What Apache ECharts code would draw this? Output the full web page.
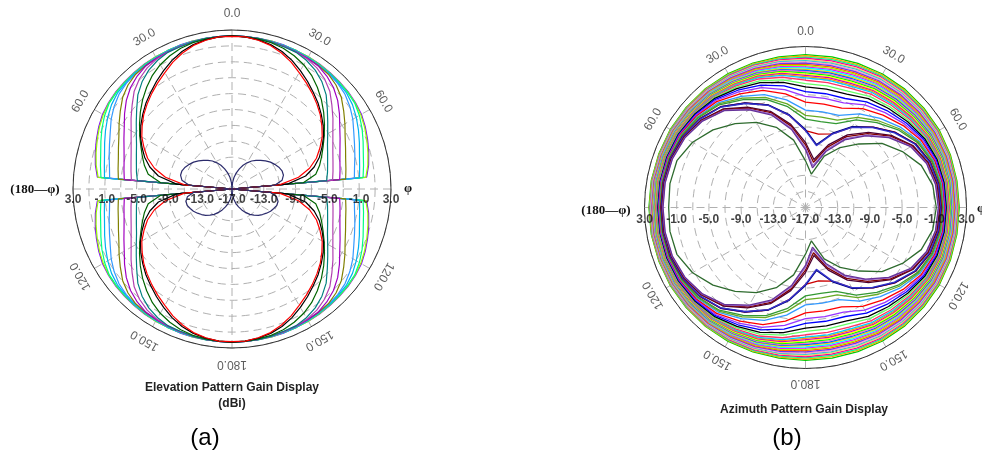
<!DOCTYPE html>
<html><head><meta charset="utf-8">
<script src="https://cdn.jsdelivr.net/npm/echarts/dist/echarts.min.js"></script>
<style>html,body{margin:0;padding:0;background:#fff}#c{width:982px;height:457px}</style>
</head><body><div id="c"></div>
<script>
// ---------- tick labels ----------
const radiusTicks = [3, -1, -5, -9, -13, -17];
const angleTicks = [0, 30, 60, 120, 150, 180, 210, 240, 300, 330];

// ---------- (a) Elevation pattern: gain (dBi) vs angle from top, one quadrant 0..90 (plot is symmetric) ----------
const elevAngles = [0,5,10,15,20,25,30,35,40,45,50,55,60,65,70,75,80,85,90];
const elevRed     = [2.2,2.2,2.0,1.7,1.2,0.6,-0.1,-0.7,-1.3,-1.9,-2.5,-3.2,-3.9,-4.8,-5.7,-6.9,-8.5,-11,-17];
const elevBlack   = [2.25,2.2,2.05,1.8,1.4,0.85,0.2,-0.45,-1.1,-1.7,-2.35,-3.0,-3.7,-4.5,-5.3,-6.3,-7.6,-10,-17];
const elevDkGreen = [2.25,2.2,2.15,2.05,1.85,1.5,1.05,0.45,-0.3,-1.1,-1.95,-2.8,-3.6,-4.35,-5.0,-5.6,-6.3,-8.0,-17];
const elevTeal    = [2.25,2.25,2.2,2.15,2.05,2.0,1.7,1.25,0.6,-0.25,-1.35,-2.3,-3.1,-3.75,-4.2,-4.55,-4.8,-5.05,-17];
const elevMagenta = [2.25,2.25,2.2,2.15,2.1,2.0,1.9,1.6,1.1,0.4,-0.6,-1.5,-2.35,-3.0,-3.5,-3.85,-4.1,-4.3,-17];
const elevPurple  = [2.25,2.25,2.2,2.15,2.1,2.05,2.0,1.9,1.55,1.05,0.35,-0.5,-1.35,-2.0,-2.55,-2.95,-3.2,-3.4,-17];
const elevOlive   = [2.25,2.25,2.2,2.15,2.1,2.05,2.0,1.95,1.85,1.5,0.95,0.15,-0.6,-1.3,-1.8,-2.2,-2.45,-2.65,-17];
const elevBlue    = [2.25,2.25,2.2,2.2,2.15,2.1,2.05,2.0,1.9,1.8,1.55,1.1,0.55,-0.1,-0.6,-1.0,-1.35,-1.55,-17];
const elevCyan    = [2.25,2.25,2.25,2.2,2.2,2.15,2.1,2.05,2.0,1.9,1.8,1.5,1.05,0.55,0.05,-0.4,-0.7,-0.9,-17];
const elevSpring  = [2.25,2.25,2.25,2.2,2.2,2.2,2.15,2.1,2.05,2.0,1.95,1.85,1.5,1.05,0.55,0.1,-0.2,-0.45,-17];
const elevLime    = [2.25,2.25,2.25,2.25,2.2,2.2,2.2,2.15,2.1,2.05,2.0,1.9,1.7,1.4,1.05,0.7,0.35,-0.1,-17];
const elevViolet  = [2.25,2.25,2.25,2.25,2.25,2.2,2.2,2.2,2.15,2.1,2.05,1.95,1.8,1.5,1.15,0.8,0.45,0.0,-17];
const elevNavyUp  = [-17,-16.2,-15.5,-14.9,-14.3,-13.7,-13.2,-12.7,-12.3,-11.9,-11.5,-11.1,-10.8,-10.5,-10.3,-10.3,-10.6,-11.6,-17];
const elevNavyLow = [-17,-16.3,-15.7,-15.1,-14.6,-14.1,-13.6,-13.1,-12.7,-12.3,-12.0,-11.7,-11.4,-11.2,-11.0,-11.0,-11.3,-12.2,-17];

// ---------- (b) Azimuth pattern: gain (dBi), upper half -90..90 (plot is mirrored top/bottom) ----------
const azAngles = [-90,-80,-70,-60,-50,-40,-30,-20,-10,0,10,20,30,40,50,60,70,80,90];
const azDarkGreen = [0.0,0.1,0.0,-0.8,-2.0,-3.4,-4.8,-6.4,-8.5,-11.2,-12.8,-10.2,-8.4,-6.7,-4.6,-3.1,-1.7,-0.95,-0.75];
const azK00 = [0.7,0.7,0.6,0.3,-0.3,-1.3,-3.0,-4.8,-7.2,-9.8,-12.0,-9.6,-7.3,-5.4,-3.5,-1.9,-1.0,-0.6,-0.5];
const azK01 = [0.74,0.74,0.64,0.34,-0.25,-1.23,-2.9,-4.66,-7.02,-9.56,-11.72,-9.37,-7.11,-5.25,-3.39,-1.82,-0.94,-0.55,-0.45];
const azK02 = [0.79,0.79,0.69,0.41,-0.17,-1.12,-2.74,-4.46,-6.74,-9.21,-11.3,-9.02,-6.83,-5.02,-3.22,-1.7,-0.84,-0.47,-0.37];
const azK03 = [0.83,0.83,0.74,0.46,-0.1,-1.03,-2.61,-4.28,-6.51,-8.92,-10.95,-8.73,-6.59,-4.83,-3.07,-1.59,-0.76,-0.4,-0.31];
const azK04 = [0.89,0.9,0.82,0.58,0.09,-0.71,-2.08,-3.5,-5.39,-7.44,-9.2,-7.3,-5.51,-4.05,-2.57,-1.3,-0.58,-0.27,-0.21];
const azK05 = [0.93,0.93,0.85,0.62,0.13,-0.66,-2.01,-3.42,-5.29,-7.32,-9.06,-7.18,-5.41,-3.96,-2.49,-1.23,-0.53,-0.22,-0.16];
const azK06 = [0.98,0.98,0.9,0.66,0.17,-0.64,-2.01,-3.45,-5.37,-7.44,-7.74,-7.28,-5.46,-3.96,-2.45,-1.18,-0.46,-0.16,-0.08];
const azK07 = [1.03,1.04,0.97,0.77,0.35,-0.34,-1.51,-2.7,-4.29,-6.02,-6.17,-5.92,-4.42,-3.22,-1.98,-0.9,-0.3,-0.05,0.0];
const azK08 = [1.09,1.09,1.03,0.84,0.44,-0.21,-1.31,-2.43,-3.93,-5.55,-5.6,-5.46,-4.06,-2.93,-1.78,-0.76,-0.2,0.04,0.08];
const azK09 = [1.14,1.15,1.09,0.91,0.54,-0.05,-1.06,-2.07,-3.43,-4.9,-4.95,-4.82,-3.56,-2.56,-1.52,-0.6,-0.08,0.13,0.16];
const azK10 = [1.19,1.2,1.15,1.0,0.68,0.17,-0.69,-1.53,-2.66,-3.9,-3.95,-3.85,-2.82,-2.02,-1.17,-0.38,0.06,0.23,0.25];
const azK11 = [1.24,1.26,1.21,1.08,0.8,0.35,-0.41,-1.14,-2.12,-3.19,-3.24,-3.16,-2.29,-1.62,-0.89,-0.21,0.18,0.32,0.33];
const azK12 = [1.3,1.31,1.27,1.16,0.9,0.5,-0.18,-0.82,-1.66,-2.6,-2.65,-2.59,-1.84,-1.28,-0.66,-0.05,0.28,0.4,0.41];
const azK13 = [1.35,1.36,1.33,1.23,1.0,0.65,0.06,-0.49,-1.21,-2.01,-2.06,-2.01,-1.39,-0.94,-0.42,0.1,0.4,0.49,0.49];
const azK14 = [1.4,1.42,1.39,1.3,1.08,0.77,0.23,-0.25,-0.89,-1.6,-1.65,-1.61,-1.07,-0.68,-0.23,0.24,0.49,0.57,0.56];
const azK15 = [1.45,1.47,1.44,1.36,1.17,0.88,0.41,-0.01,-0.57,-1.19,-1.24,-1.2,-0.74,-0.42,-0.04,0.37,0.59,0.66,0.64];
const azK16 = [1.5,1.52,1.49,1.42,1.24,0.98,0.54,0.16,-0.34,-0.89,-0.94,-0.91,-0.5,-0.23,0.11,0.48,0.68,0.73,0.71];
const azK17 = [1.55,1.57,1.54,1.47,1.3,1.05,0.63,0.27,-0.21,-0.74,-0.79,-0.75,-0.36,-0.1,0.22,0.57,0.75,0.8,0.79];
const azK18 = [1.6,1.61,1.58,1.52,1.35,1.12,0.71,0.37,-0.09,-0.58,-0.63,-0.6,-0.22,0.03,0.33,0.66,0.83,0.87,0.86];
const azK19 = [1.65,1.66,1.63,1.57,1.41,1.19,0.8,0.47,0.04,-0.43,-0.48,-0.44,-0.08,0.16,0.44,0.75,0.91,0.95,0.93];
const azK20 = [1.7,1.71,1.68,1.62,1.47,1.26,0.89,0.57,0.16,-0.28,-0.33,-0.28,0.06,0.29,0.55,0.84,0.99,1.02,1.0];
const azK21 = [1.75,1.76,1.73,1.68,1.53,1.33,0.98,0.68,0.28,-0.12,-0.17,-0.12,0.2,0.41,0.66,0.93,1.06,1.09,1.08];
const azK22 = [1.8,1.81,1.78,1.73,1.59,1.39,1.06,0.77,0.4,0.02,-0.03,0.02,0.33,0.54,0.77,1.02,1.14,1.16,1.15];
const azK23 = [1.85,1.86,1.82,1.78,1.65,1.46,1.15,0.87,0.52,0.17,0.12,0.18,0.47,0.67,0.88,1.11,1.22,1.23,1.22];
const azK24 = [1.9,1.91,1.87,1.83,1.71,1.54,1.24,0.98,0.65,0.33,0.28,0.34,0.61,0.79,0.99,1.2,1.3,1.31,1.3];
const azK25 = [1.95,1.96,1.92,1.88,1.76,1.6,1.33,1.08,0.77,0.48,0.43,0.49,0.75,0.92,1.1,1.29,1.37,1.38,1.37];
const azK26 = [2.0,2.01,1.97,1.94,1.82,1.67,1.41,1.18,0.89,0.63,0.58,0.65,0.89,1.05,1.21,1.38,1.45,1.45,1.44];
const azK27 = [2.05,2.06,2.02,1.99,1.88,1.74,1.5,1.29,1.02,0.79,0.74,0.81,1.03,1.18,1.32,1.47,1.53,1.52,1.52];
const azK28 = [2.1,2.11,2.06,2.04,1.94,1.81,1.59,1.39,1.14,0.94,0.89,0.96,1.18,1.31,1.43,1.57,1.61,1.6,1.59];
const azK29 = [2.15,2.16,2.11,2.09,2.0,1.88,1.68,1.49,1.27,1.09,1.04,1.12,1.32,1.44,1.54,1.66,1.69,1.67,1.66];
const azK30 = [2.2,2.2,2.16,2.14,2.06,1.95,1.76,1.59,1.39,1.25,1.2,1.28,1.46,1.56,1.65,1.75,1.76,1.74,1.73];
const azK31 = [2.25,2.25,2.21,2.19,2.12,2.02,1.85,1.69,1.5,1.39,1.34,1.42,1.59,1.69,1.76,1.84,1.84,1.81,1.81];
const azK32 = [2.3,2.3,2.26,2.24,2.17,2.09,1.94,1.79,1.63,1.54,1.49,1.58,1.73,1.81,1.87,1.93,1.92,1.88,1.88];
const azK33 = [2.35,2.35,2.3,2.3,2.23,2.16,2.03,1.9,1.75,1.69,1.64,1.74,1.87,1.94,1.98,2.02,1.99,1.96,1.95];
const azK34 = [2.4,2.4,2.35,2.35,2.29,2.23,2.11,2.0,1.88,1.85,1.8,1.89,2.01,2.07,2.09,2.11,2.07,2.03,2.03];
const azK35 = [2.45,2.45,2.4,2.4,2.35,2.3,2.2,2.1,2.0,2.0,2.0,2.05,2.15,2.2,2.2,2.2,2.15,2.1,2.1];

// ---------- styling lists ----------
const elevCurves = [
  [elevViolet,'#8000ff'],[elevLime,'#99ff00'],[elevSpring,'#00ff80'],[elevCyan,'#00b0f0'],
  [elevBlue,'#3399ff'],[elevOlive,'#808000'],[elevPurple,'#a000c0'],[elevMagenta,'#b040b0'],
  [elevTeal,'#008080'],[elevDkGreen,'#006400'],[elevBlack,'#000000'],[elevRed,'#ff0000']
];
const azCurves = [
  [azK35,'#00cc00'],[azK34,'#ffa500'],[azK33,'#00ff99'],[azK32,'#ff0099'],[azK31,'#ffcc66'],
  [azK30,'#33cccc'],[azK29,'#ff99cc'],[azK28,'#6633ff'],[azK27,'#ff6600'],[azK26,'#99ff00'],
  [azK25,'#ff00ff'],[azK24,'#00ffff'],[azK23,'#ffcc00'],[azK22,'#0066ff'],[azK21,'#ff66cc'],
  [azK20,'#00ff00'],[azK19,'#ffff00'],[azK18,'#cc00cc'],[azK17,'#ff9900'],[azK16,'#00ccff'],
  [azK15,'#ff3366'],[azK14,'#66ff66'],[azK13,'#000000'],[azK12,'#0000ff'],[azK11,'#9933ff'],
  [azK10,'#ff0000'],[azK09,'#3399ff'],[azK08,'#66aa22'],[azK07,'#339933'],[azK06,'#cc0000'],
  [azK05,'#000080'],[azK04,'#3333cc'],[azK03,'#4b0033'],[azK02,'#800000'],[azK01,'#9966cc'],
  [azK00,'#663399'],[azDarkGreen,'#2e6b2e']
];

// build closed loops from the symmetric readings
function elevLoop(up, low) {
  const n = elevAngles.length, p = [];
  for (let i = 0; i < n; i++) p.push([up[i], elevAngles[i]]);
  for (let i = n - 2; i >= 0; i--) p.push([low[i], 180 - elevAngles[i]]);
  for (let i = 1; i < n; i++) p.push([low[i], 180 + elevAngles[i]]);
  for (let i = n - 2; i >= 0; i--) p.push([up[i], 360 - elevAngles[i]]);
  return p;
}
function azLoop(h) {
  const n = azAngles.length, p = [];
  for (let i = 0; i < n; i++) p.push([h[i], (azAngles[i] + 360) % 360]);
  for (let i = n - 2; i >= 0; i--) p.push([h[i], 180 - azAngles[i]]);
  return p;
}

const chart = echarts.init(document.getElementById('c'), null, {renderer: 'canvas'});
const FONT = 'Liberation Sans, Arial, sans-serif';
const gridStyle = {color: '#b0b0b0', width: 1, type: [8, 5]};

function axesFor(idx) {
  return {
    angle: {polarIndex: idx, type: 'value', min: 0, max: 360, interval: 30, startAngle: 90, clockwise: true,
      axisLine: {lineStyle: {color: '#333', width: 1}}, axisTick: {show: false}, axisLabel: {show: false},
      splitLine: {show: true, lineStyle: gridStyle}},
    radius: {polarIndex: idx, type: 'value', min: -17, max: 3, interval: 2,
      axisLine: {show: false}, axisTick: {show: false}, axisLabel: {show: false},
      splitLine: {show: true, lineStyle: gridStyle}}
  };
}
// invisible label rings (polar 2 and 3) that carry the rotated angle labels
function ringAxesFor(idx) {
  return {
    angle: {polarIndex: idx, type: 'value', min: 0, max: 360, startAngle: 90, clockwise: true, show: false},
    radius: {polarIndex: idx, type: 'value', min: 0, max: 1, show: false}
  };
}
const a0 = axesFor(0), a1 = axesFor(1), r2 = ringAxesFor(2), r3 = ringAxesFor(3);

function radiusLabelSeries(idx, dist) {
  const data = [];
  radiusTicks.forEach(v => data.push({value: [v, 270], name: v.toFixed(1)}));
  radiusTicks.filter(v => v !== -17).forEach(v => data.push({value: [v, 90], name: v.toFixed(1)}));
  return {type: 'scatter', coordinateSystem: 'polar', polarIndex: idx, symbolSize: 1, silent: true,
    itemStyle: {color: 'rgba(0,0,0,0)'}, z: 5,
    label: {show: true, position: 'bottom', distance: dist, formatter: '{b}', color: '#111',
      fontFamily: FONT, fontSize: 12, fontWeight: 'bold'},
    data: data};
}
function angleLabelSeries(idx) {
  const data = angleTicks.map(a => ({value: [1, a], name: (a <= 180 ? a : 360 - a).toFixed(1),
    label: {rotate: -a}}));
  return {type: 'scatter', coordinateSystem: 'polar', polarIndex: idx, symbolSize: 1, silent: true,
    itemStyle: {color: 'rgba(0,0,0,0)'}, z: 5,
    label: {show: true, position: 'inside', formatter: '{b}', color: '#333', fontFamily: FONT, fontSize: 12},
    data: data};
}

const series = [];
elevCurves.forEach(([q, c]) => series.push({type: 'line', coordinateSystem: 'polar', polarIndex: 0,
  data: elevLoop(q, q), showSymbol: false, symbol: 'none', lineStyle: {color: c, width: 1.2}, silent: true}));
series.push({type: 'line', coordinateSystem: 'polar', polarIndex: 0, data: elevLoop(elevNavyUp, elevNavyLow),
  showSymbol: false, symbol: 'none', lineStyle: {color: '#2b2b6b', width: 1.2}, silent: true});
azCurves.forEach(([h, c]) => series.push({type: 'line', coordinateSystem: 'polar', polarIndex: 1,
  data: azLoop(h), showSymbol: false, symbol: 'none', lineStyle: {color: c, width: 1.3}, silent: true}));
series.push(radiusLabelSeries(0, 4), radiusLabelSeries(1, 6), angleLabelSeries(2), angleLabelSeries(3));

function txt(x, y, text, font, fill) {
  return {type: 'text', silent: true, style: {x: x, y: y, text: text, font: font, fill: fill || '#111',
    textAlign: 'center', textVerticalAlign: 'middle', verticalAlign: 'middle'}};
}

chart.setOption({
  animation: false,
  backgroundColor: '#fff',
  polar: [{center: [232, 189], radius: 159}, {center: [805.5, 207.5], radius: 161},
          {center: [232, 189], radius: 175}, {center: [805.5, 207.5], radius: 176}],
  angleAxis: [a0.angle, a1.angle, r2.angle, r3.angle],
  radiusAxis: [a0.radius, a1.radius, r2.radius, r3.radius],
  series: series,
  graphic: [
    txt(35, 190, '(180\u2014\u03c6)', 'bold 13px "Liberation Serif", serif', '#111'),
    txt(408, 189, '\u03c6', 'bold 13px "Liberation Serif", serif', '#111'),
    txt(606, 211, '(180\u2014\u03c6)', 'bold 13px "Liberation Serif", serif', '#111'),
    txt(981, 209, '\u03c6', 'bold 13px "Liberation Serif", serif', '#111'),
    txt(232, 388, 'Elevation Pattern Gain Display', 'bold 12px ' + FONT, '#222'),
    txt(232, 404, '(dBi)', 'bold 12px ' + FONT, '#222'),
    txt(804, 410, 'Azimuth Pattern Gain Display', 'bold 12px ' + FONT, '#222'),
    txt(205, 438, '(a)', '24px ' + FONT, '#000'),
    txt(787, 438, '(b)', '24px ' + FONT, '#000')
  ]
});
</script>
</body></html>
